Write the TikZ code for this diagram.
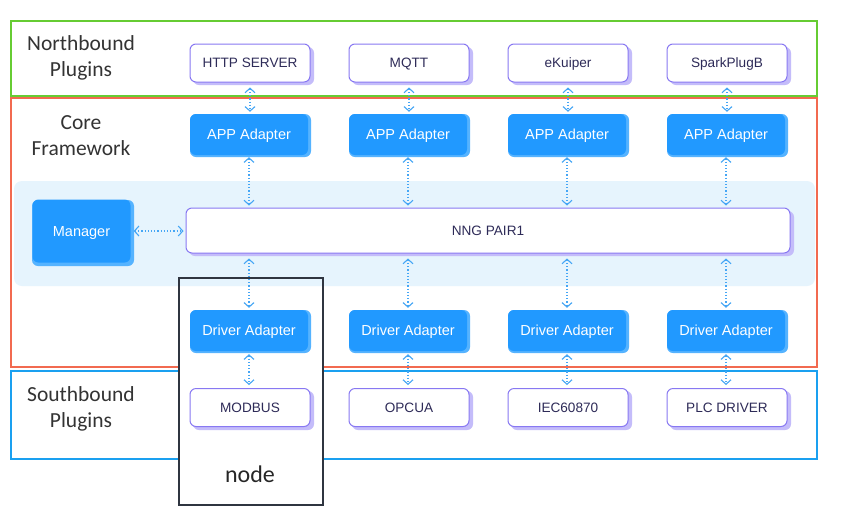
\documentclass[tikz,border=0pt]{standalone}
\usepackage{fontspec}
\setmainfont{Liberation Sans}
\newfontfamily\calfont{Carlito}
\usetikzlibrary{arrows.meta}
\definecolor{cgreen}{HTML}{66CC33}
\definecolor{cred}{HTML}{F26A50}
\definecolor{cblue}{HTML}{1AA0F0}
\definecolor{cband}{HTML}{E6F4FD}
\definecolor{nodeblue}{HTML}{2199FF}
\definecolor{nodeblueL}{HTML}{55B3FF}
\definecolor{plugborder}{HTML}{8878F2}
\definecolor{plugshadow}{HTML}{C4BCFA}
\definecolor{txtdark}{HTML}{2E2B58}
\definecolor{arrowc}{HTML}{45A6F5}
\definecolor{nodebox}{HTML}{2F3540}
\begin{document}
\begin{tikzpicture}[x=1pt,y=-1pt,
  frame/.style={line width=1.6pt},
  grouplabel/.style={font=\calfont\fontsize{21.5}{26}\selectfont, text=black!80, align=center},
  plugin/.style={draw=plugborder, line width=1pt, fill=white, rounded corners=6pt,
    minimum width=120pt, minimum height=38pt, inner sep=0pt,
    text height=9.8pt, text depth=0pt,
    font=\fontsize{13.6}{15}\selectfont, text=txtdark},
  adapter/.style={fill=nodeblue, rounded corners=6pt,
    minimum width=118pt, minimum height=41pt, inner sep=0pt,
    text height=10.4pt, text depth=0pt,
    font=\fontsize{14.5}{16}\selectfont, text=white},
  link/.style={arrowc, line width=1.2pt, dotted, {Straight Barb[length=4.5pt,width=10pt,line width=1.1pt]}-{Straight Barb[length=4.5pt,width=10pt,line width=1.1pt]}, shorten <=2pt, shorten >=2pt}
]
\useasboundingbox (0,0) rectangle (846,528);
\fill[white] (0,0) rectangle (846,528);

% frames
\draw[frame, cgreen] (11,21) rectangle (817,96);
\draw[frame, cred] (11,98) rectangle (817,367);
\draw[frame, cblue] (11,371) rectangle (817,459);

% node box background
\fill[white] (179,278) rectangle (323,505);

% band
\fill[cband, rounded corners=8pt] (14,181) rectangle (815,286);

% group labels
\node[grouplabel] (lnorth) at (81,58) {Northbound\\Plugins};
\node[grouplabel] (lcore) at (81,136) {Core\\Framework};
\node[grouplabel] (lsouth) at (81,409) {Southbound\\Plugins};

% shadows for plugins and adapters
\foreach \x in {250,409,568,727}{
  \fill[plugshadow, rounded corners=6pt] (\x-57,47) rectangle (\x+64,85);
  \fill[plugshadow, rounded corners=6pt] (\x-57,391) rectangle (\x+64,430);
  \fill[nodeblueL, rounded corners=6pt] (\x-60,114) rectangle (\x+61,157);
  \fill[nodeblueL, rounded corners=6pt] (\x-60,310) rectangle (\x+61,353);
}
\fill[nodeblueL, rounded corners=6pt] (32,200) rectangle (134,266);
\fill[plugshadow, rounded corners=6pt] (189,211) rectangle (794,256);

% northbound plugins
\node[plugin] (p1) at (250,63) {HTTP SERVER};
\node[plugin] (p2) at (409,63) {MQTT};
\node[plugin] (p3) at (568,63) {eKuiper};
\node[plugin] (p4) at (727,63) {SparkPlugB};

% app adapters
\node[adapter] (a1) at (249,134.5) {APP Adapter};
\node[adapter] (a2) at (408,134.5) {APP Adapter};
\node[adapter] (a3) at (567,134.5) {APP Adapter};
\node[adapter] (a4) at (726,134.5) {APP Adapter};

% NNG
\node[plugin, minimum width=604pt, minimum height=45pt] (nng) at (488,230.5) {NNG PAIR1};

% manager
\node[adapter, minimum width=98pt, minimum height=63pt] (mgr) at (81.5,231) {Manager};

% driver adapters
\node[adapter] (d1) at (249,330.5) {Driver Adapter};
\node[adapter] (d2) at (408,330.5) {Driver Adapter};
\node[adapter] (d3) at (567,330.5) {Driver Adapter};
\node[adapter] (d4) at (726,330.5) {Driver Adapter};

% southbound plugins
\node[plugin] (s1) at (250,407.5) {MODBUS};
\node[plugin] (s2) at (409,407.5) {OPCUA};
\node[plugin] (s3) at (568,407.5) {IEC60870};
\node[plugin] (s4) at (727,407.5) {PLC DRIVER};

% links
\foreach \i in {1,2,3,4}{
  \draw[link] ([yshift=-3pt]p\i.south) -- ([yshift=0pt]p\i.south |- a\i.north);
  \draw[link] (a\i.south) -- (a\i.south |- nng.north);
  \draw[link] ([yshift=-3pt]a\i.south |- nng.south) -- (a\i.south |- d\i.north);
  \draw[link] ([yshift=-1pt]d\i.south) -- ([yshift=1pt]d\i.south |- s\i.north);
}
\draw[link] ([xshift=1pt]mgr.east) -- (mgr.east -| nng.west);

% node box
\draw[nodebox, line width=2pt] (179,278) rectangle (323,505);
\node[font=\calfont\fontsize{24}{28}\selectfont, text=black!85] (nodelabel) at (250,474) {node};
\end{tikzpicture}
\end{document}
